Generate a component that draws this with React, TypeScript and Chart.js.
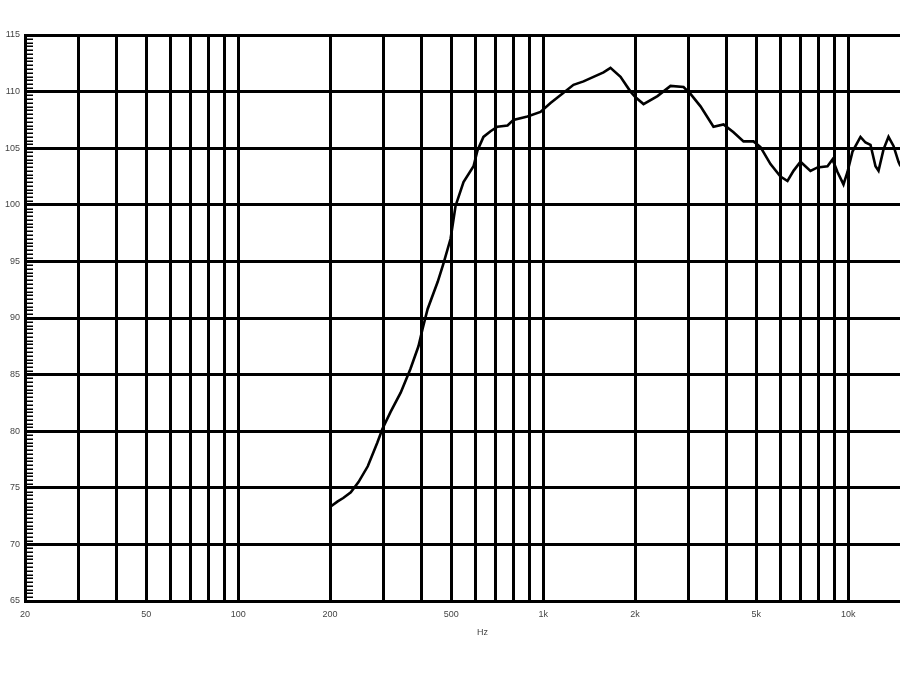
import React, { useEffect, useRef } from 'react';
import { Chart, registerables } from 'chart.js';

Chart.register(...registerables);

// Frequency response data (Hz / dB SPL)
const frequencies = [
  200, 212, 221, 234, 248, 266, 286, 297, 316, 341,
  367, 390, 402, 418, 451, 472, 497, 516, 548, 591,
  609, 637, 672, 708, 764, 799, 888, 980, 1057, 1166,
  1257, 1356, 1462, 1577, 1662, 1793, 1933, 2008, 2133, 2370,
  2615, 2885, 3041, 3280, 3617, 3902, 4207, 4538, 4893, 5158,
  5563, 5998, 6324, 6618, 6976, 7522, 7933, 8554, 8883, 9224,
  9652, 9947, 10330, 10973, 11396, 11835, 12290, 12573, 13058, 13558,
  14079, 14620, 14846,
];

const splValues = [
  73.3, 73.8, 74.1, 74.6, 75.5, 76.9, 79.0, 80.2, 81.7, 83.4,
  85.5, 87.5, 89.0, 90.8, 93.2, 94.9, 97.0, 99.9, 102.0, 103.4,
  104.8, 106.0, 106.5, 106.9, 107.0, 107.5, 107.8, 108.2, 109.0, 109.9,
  110.6, 110.9, 111.3, 111.7, 112.1, 111.3, 110.0, 109.5, 108.9, 109.6,
  110.5, 110.4, 109.8, 108.7, 106.9, 107.1, 106.4, 105.6, 105.6, 105.1,
  103.6, 102.5, 102.1, 103.0, 103.8, 103.0, 103.3, 103.4, 104.0, 102.9,
  101.8, 102.9, 104.7, 106.0, 105.5, 105.3, 103.4, 103.0, 104.9, 106.0,
  105.2, 103.8, 103.4,
];

const xGridValues = [
  20, 30, 40, 50, 60, 70, 80, 90, 100,
  200, 300, 400, 500, 600, 700, 800, 900, 1000,
  2000, 3000, 4000, 5000, 6000, 7000, 8000, 9000, 10000, 20000,
];

const xTickLabels: Record<number, string> = {
  20: '20', 50: '50', 100: '100', 200: '200', 500: '500',
  1000: '1k', 2000: '2k', 5000: '5k', 10000: '10k',
};

const yMin = 65;
const yMax = 115;
const yStep = 5;
const yMinorStep = 5 / 15;
const xMin = 20;
const xMax = 20000;
const xTitle = 'Hz';

const minorTicksPlugin = {
  id: 'minorTicks',
  afterDraw(chart: any) {
    const { ctx, chartArea, scales } = chart;
    const y = scales.y;
    ctx.save();
    ctx.strokeStyle = '#000';
    ctx.lineWidth = 1.5;
    ctx.beginPath();
    for (let v = yMin; v <= yMax + 1e-6; v += yMinorStep) {
      const py = Math.round(y.getPixelForValue(v)) + 0.25;
      ctx.moveTo(chartArea.left, py);
      ctx.lineTo(chartArea.left + 8, py);
    }
    ctx.stroke();
    ctx.restore();
  },
};

export default function App() {
  const canvasRef = useRef<HTMLCanvasElement | null>(null);

  useEffect(() => {
    if (!canvasRef.current) return;
    const labelFont = { family: 'Arial, "Liberation Sans", sans-serif', size: 9 };
    const chart = new Chart(canvasRef.current, {
      type: 'line',
      data: {
        datasets: [
          {
            data: frequencies.map((f, i) => ({ x: f, y: splValues[i] })),
            borderColor: '#000',
            borderWidth: 2.6,
            pointRadius: 0,
            pointBorderWidth: 0,
            tension: 0,
            fill: false,
          },
        ],
      },
      options: {
        animation: false,
        responsive: false,
        maintainAspectRatio: false,
        layout: { autoPadding: false, padding: { top: 35, right: 0, bottom: 0, left: 0 } },
        plugins: {
          legend: { display: false },
          tooltip: { enabled: false },
        },
        scales: {
          x: {
            type: 'logarithmic',
            min: xMin,
            max: xMax,
            afterBuildTicks: (scale: any) => {
              scale.ticks = xGridValues.map((v) => ({ value: v }));
            },
            afterFit: (scale: any) => {
              scale.height = 74;
              scale.paddingLeft = 0;
              scale.paddingRight = 0;
            },
            ticks: {
              autoSkip: false,
              maxRotation: 0,
              minRotation: 0,
              color: '#444',
              font: labelFont,
              padding: 8,
              callback: (v: any) => xTickLabels[Number(v)] ?? '',
            },
            grid: { color: '#000', lineWidth: 3, drawTicks: false },
            border: { color: '#000', width: 3 },
            title: {
              display: true,
              text: xTitle,
              color: '#444',
              font: labelFont,
              padding: { top: 0, bottom: 37 },
            },
          },
          y: {
            type: 'linear',
            min: yMin,
            max: yMax,
            afterFit: (scale: any) => {
              scale.width = 25;
              scale.paddingTop = 0;
              scale.paddingBottom = 0;
            },
            ticks: {
              stepSize: yStep,
              color: '#444',
              font: labelFont,
              padding: 5,
            },
            grid: { color: '#000', lineWidth: 3, drawTicks: false },
            border: { color: '#000', width: 3 },
          },
        },
      },
      plugins: [minorTicksPlugin],
    } as any);
    return () => chart.destroy();
  }, []);

  return (
    <div
      style={{
        position: 'fixed',
        top: 0,
        left: 0,
        width: 900,
        height: 675,
        overflow: 'hidden',
        background: '#fff',
      }}
    >
      <canvas
        ref={canvasRef}
        width={940}
        height={675}
        style={{ width: 940, height: 675, display: 'block' }}
      />
    </div>
  );
}
